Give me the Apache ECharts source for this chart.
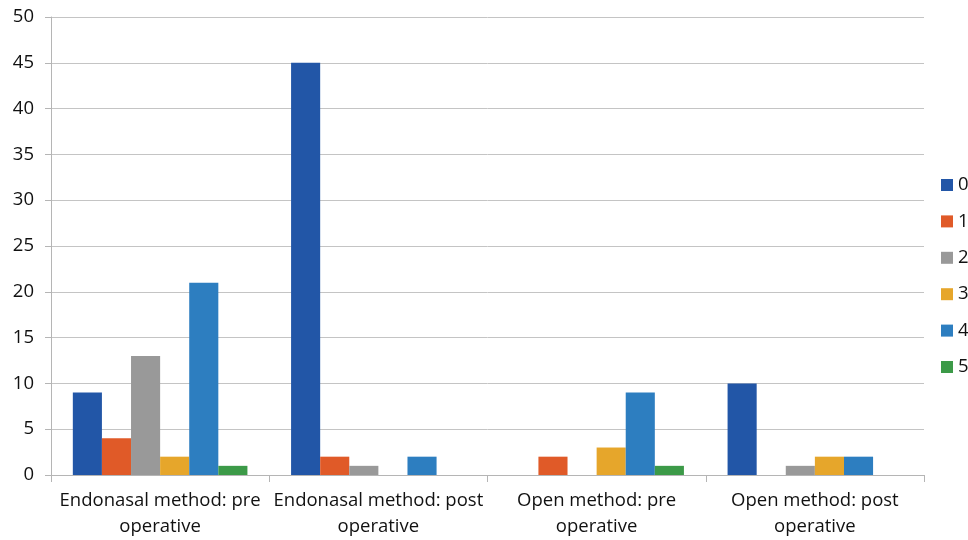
<!DOCTYPE html>
<html><head><meta charset="utf-8">
<script src="https://cdn.jsdelivr.net/npm/echarts@6/dist/echarts.min.js"></script>
<style>html,body{margin:0;padding:0;background:#fff}#c{width:968px;height:540px}</style>
</head><body><div id="c"></div>
<script>
const categories = ["Endonasal method: pre\noperative", "Endonasal method: post\noperative", "Open method: pre\noperative", "Open method: post\noperative"];
const seriesNames = ["0", "1", "2", "3", "4", "5"];
const s0 = [9, 45, 0, 10];
const s1 = [4, 2, 2, 0];
const s2 = [13, 1, 0, 1];
const s3 = [2, 0, 3, 2];
const s4 = [21, 2, 9, 2];
const s5 = [1, 0, 1, 0];
const values = [s0, s1, s2, s3, s4, s5];
const colors = ['#2256A7', '#E05A28', '#999999', '#E6A62B', '#2D7EC0', '#3C9A48'];

const chart = echarts.init(document.getElementById('c'));
const font = "'Open Sans', 'Liberation Sans', sans-serif";
chart.setOption({
  animation: false,
  textStyle: {fontFamily: font},
  grid: {left: 51, right: 44, top: 17, bottom: 64},
  legend: {
    orient: 'vertical', left: 936, top: 168,
    itemWidth: 12, itemHeight: 12, itemGap: 12.4,
    icon: 'rect',
    textStyle: {fontSize: 18.5, color: '#111', fontFamily: font, lineHeight: 24},
    data: seriesNames
  },
  xAxis: {
    type: 'category', data: categories,
    axisLine: {lineStyle: {color: '#b5b5b5', width: 1}},
    axisTick: {show: true, length: 7, lineStyle: {color: '#b5b5b5'}},
    axisLabel: {fontSize: 18.5, color: '#111', lineHeight: 26, margin: 13, interval: 0, fontFamily: font}
  },
  yAxis: {
    type: 'value', min: 0, max: 50, interval: 5,
    axisLine: {show: true, lineStyle: {color: '#b5b5b5'}},
    axisTick: {show: true, length: 6, lineStyle: {color: '#b5b5b5'}},
    splitLine: {lineStyle: {color: '#c4c4c4'}},
    axisLabel: {fontSize: 18.5, color: '#111', margin: 17, fontFamily: font}
  },
  series: values.map((v, i) => ({
    name: seriesNames[i], type: 'bar', data: v,
    itemStyle: {color: colors[i]},
    barGap: '0%', barCategoryGap: '20%'
  }))
});
</script></body></html>
